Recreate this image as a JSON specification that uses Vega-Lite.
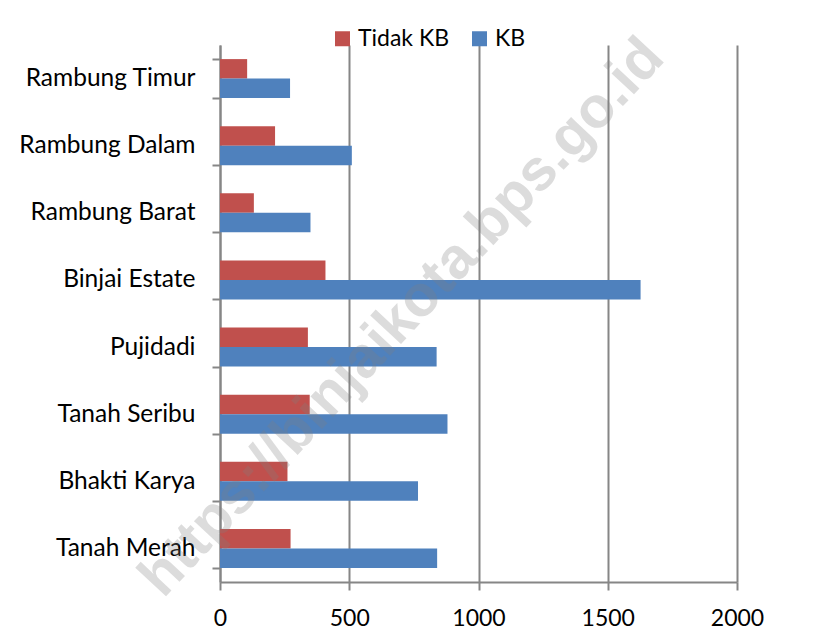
{
  "$schema": "https://vega.github.io/schema/vega-lite/v6.json",
  "width": 517,
  "height": 537,
  "autosize": {"type": "none"},
  "padding": {"left": 220, "top": 45, "right": 101, "bottom": 51},
  "background": "white",
  "config": {"view": {"stroke": null}, "font": "Lato"},
  "layer": [
    {
      "data": {
        "values": [
          {"kelurahan": "Rambung Timur", "status": "Tidak KB", "value": 105},
          {"kelurahan": "Rambung Timur", "status": "KB", "value": 271},
          {"kelurahan": "Rambung Dalam", "status": "Tidak KB", "value": 213},
          {"kelurahan": "Rambung Dalam", "status": "KB", "value": 510},
          {"kelurahan": "Rambung Barat", "status": "Tidak KB", "value": 131},
          {"kelurahan": "Rambung Barat", "status": "KB", "value": 350},
          {"kelurahan": "Binjai Estate", "status": "Tidak KB", "value": 408},
          {"kelurahan": "Binjai Estate", "status": "KB", "value": 1627},
          {"kelurahan": "Pujidadi", "status": "Tidak KB", "value": 340},
          {"kelurahan": "Pujidadi", "status": "KB", "value": 838},
          {"kelurahan": "Tanah Seribu", "status": "Tidak KB", "value": 347},
          {"kelurahan": "Tanah Seribu", "status": "KB", "value": 880},
          {"kelurahan": "Bhakti Karya", "status": "Tidak KB", "value": 261},
          {"kelurahan": "Bhakti Karya", "status": "KB", "value": 766},
          {"kelurahan": "Tanah Merah", "status": "Tidak KB", "value": 273},
          {"kelurahan": "Tanah Merah", "status": "KB", "value": 840}
        ]
      },
      "mark": {"type": "bar"},
      "encoding": {
        "y": {
          "field": "kelurahan",
          "type": "nominal",
          "sort": ["Rambung Timur", "Rambung Dalam", "Rambung Barat", "Binjai Estate", "Pujidadi", "Tanah Seribu", "Bhakti Karya", "Tanah Merah"],
          "scale": {"paddingInner": 0.42, "paddingOuter": 0.21},
          "axis": {
            "title": null,
            "tickBand": "extent",
            "labelFontSize": 24.5,
            "labelColor": "black",
            "labelPadding": 17,
            "tickSize": 8,
            "tickColor": "#868686",
            "tickWidth": 2,
            "domainColor": "#868686",
            "domainWidth": 2,
            "grid": false
          }
        },
        "x": {
          "field": "value",
          "type": "quantitative",
          "scale": {"domain": [0, 2000]},
          "axis": {
            "title": null,
            "values": [0, 500, 1000, 1500, 2000],
            "format": "d",
            "labelFlush": false,
            "grid": true,
            "gridColor": "#868686",
            "gridWidth": 2,
            "domainColor": "#868686",
            "domainWidth": 2,
            "tickColor": "#868686",
            "tickWidth": 2,
            "tickSize": 8,
            "labelFontSize": 23,
            "labelColor": "black",
            "labelPadding": 17
          }
        },
        "yOffset": {"field": "status", "type": "nominal", "sort": ["Tidak KB", "KB"]},
        "color": {
          "field": "status",
          "type": "nominal",
          "scale": {"domain": ["Tidak KB", "KB"], "range": ["#C0504D", "#4F81BD"]},
          "legend": {
            "title": null,
            "orient": "none",
            "legendX": 111,
            "legendY": -18,
            "direction": "horizontal",
            "symbolType": "square",
            "symbolSize": 225,
            "symbolStrokeWidth": 0,
            "labelFontSize": 23,
            "labelColor": "black",
            "labelOffset": 4,
            "columnPadding": 18
          }
        }
      }
    },
    {
      "data": {"values": [{"text": "https://binjaikota.bps.go.id", "x": 600, "kelurahan": "Pujidadi"}]},
      "mark": {"type": "text", "angle": -47, "align": "center", "baseline": "middle", "dx": 40, "font": "Liberation Sans", "fontWeight": "bold", "fontSize": 58, "color": "#808080", "opacity": 0.27},
      "encoding": {
        "x": {"field": "x", "type": "quantitative"},
        "y": {
          "field": "kelurahan",
          "type": "nominal",
          "sort": ["Rambung Timur", "Rambung Dalam", "Rambung Barat", "Binjai Estate", "Pujidadi", "Tanah Seribu", "Bhakti Karya", "Tanah Merah"]
        },
        "text": {"field": "text"}
      }
    }
  ]
}
